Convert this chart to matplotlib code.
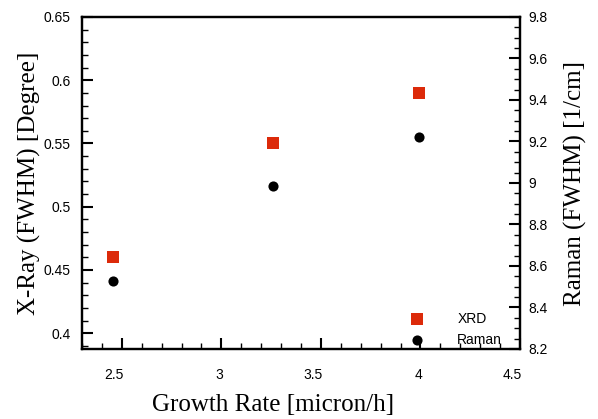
import matplotlib
matplotlib.use("Agg")
import matplotlib.pyplot as plt
from matplotlib.ticker import MultipleLocator
from matplotlib.lines import Line2D
from matplotlib.transforms import ScaledTranslation

# --- data ---
growth_rate = [2.455, 3.26, 3.995]
xrd_fwhm = [0.46, 0.55, 0.59]
raman_rate = [2.455, 3.26, 3.995]
raman_fwhm = [8.53, 8.985, 9.223]

x_ticks = [2.5, 3, 3.5, 4, 4.5]
x_labels = ["2.5", "3", "3.5", "4", "4.5"]
left_ticks = [0.4, 0.45, 0.5, 0.55, 0.6, 0.65]
left_labels = ["0.4", "0.45", "0.5", "0.55", "0.6", "0.65"]
right_ticks = [8.2, 8.4, 8.6, 8.8, 9.0, 9.2, 9.4, 9.6, 9.8]
right_labels = ["8.2", "8.4", "8.6", "8.8", "9", "9.2", "9.4", "9.6", "9.8"]

RED = "#dc2a0a"
plt.rcParams["font.family"] = ["Liberation Sans", "DejaVu Sans"]
serif = ["Liberation Serif", "DejaVu Serif"]

fig = plt.figure(figsize=(5.98, 4.19), dpi=100)
ax = fig.add_axes([82 / 598, 1 - 349 / 419, 438 / 598, 332 / 419])
ax2 = ax.twinx()

ax.plot(growth_rate, xrd_fwhm, "s", color=RED, markersize=9, markeredgewidth=0)
ax2.plot(raman_rate, raman_fwhm, "o", color="black", markersize=7.3, markeredgewidth=0)

ax.set_xlim(2.3, 4.5)
ax.set_ylim(0.3875, 0.65)
ax2.set_ylim(8.2, 9.8)

ax.xaxis.set_minor_locator(MultipleLocator(0.1))
ax.yaxis.set_minor_locator(MultipleLocator(0.01))
ax2.yaxis.set_minor_locator(MultipleLocator(0.05))

ax.set_xticks(x_ticks)
ax.set_xticklabels(x_labels, ha="right")
ax.set_yticks(left_ticks)
ax.set_yticklabels(left_labels)
ax2.set_yticks(right_ticks)
ax2.set_yticklabels(right_labels)

for a in (ax, ax2):
    a.tick_params(which="major", direction="in", length=8, width=1.5, labelsize=10, pad=8)
    a.tick_params(which="minor", direction="in", length=4, width=1.0)
    for s in a.spines.values():
        s.set_linewidth(1.6)
ax.tick_params(axis="y", which="both", right=False)
ax.tick_params(axis="x", which="both", top=False, pad=14)
ax2.tick_params(axis="y", pad=6)

shift = ScaledTranslation(2 / 100, 0, fig.dpi_scale_trans)
for lbl in ax.get_xticklabels():
    lbl.set_transform(lbl.get_transform() + shift)

ax.set_xlabel("Growth Rate [micron/h]", family=serif, fontsize=18)
ax.xaxis.set_label_coords((273 - 82) / 438, -0.135)
ax.set_ylabel("X-Ray (FWHM) [Degree]", family=serif, fontsize=18, labelpad=2)
ax2.set_ylabel("Raman (FWHM) [1/cm]", family=serif, fontsize=18, labelpad=12)

handles = [
    Line2D([], [], ls="none", marker="s", color=RED, markersize=9, markeredgewidth=0),
    Line2D([], [], ls="none", marker="o", color="black", markersize=7.3, markeredgewidth=0),
]
ax.legend(handles, ["XRD", "Raman"], loc="upper left", bbox_to_anchor=(0.733, 0.11),
          frameon=False, fontsize=10, handlelength=2, handletextpad=1.9,
          labelspacing=0.5, borderpad=0, borderaxespad=0)

fig.savefig("out.png", dpi=100)
